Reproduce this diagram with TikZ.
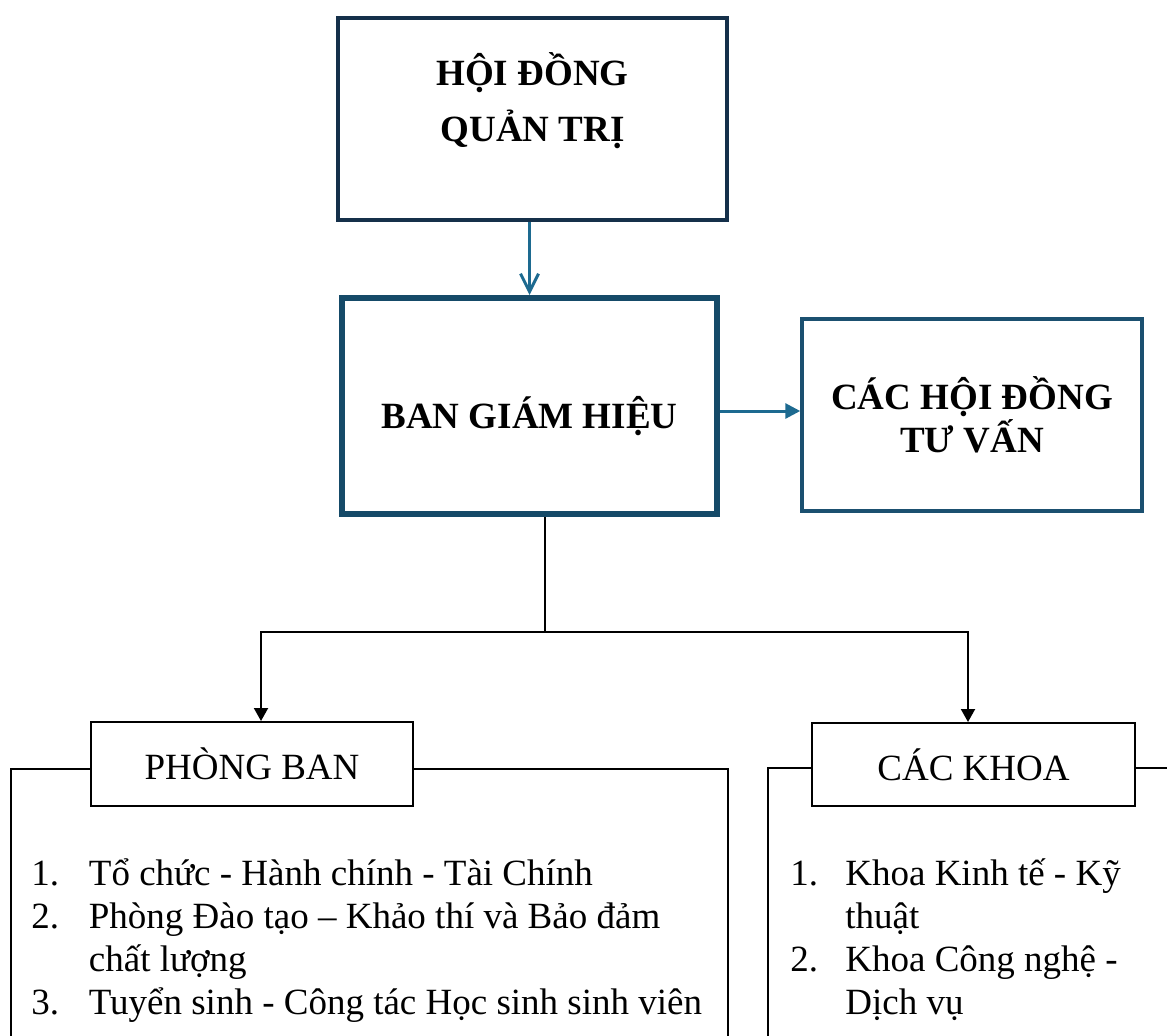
\documentclass[tikz,border=0pt]{standalone}
\usepackage{fontspec}
\setmainfont{Liberation Serif}
\usetikzlibrary{arrows.meta}
\newcommand{\px}{0.5pt}
\definecolor{navy}{HTML}{15304A}
\definecolor{deepblue}{HTML}{154A68}
\definecolor{steelblue}{HTML}{1B5070}
\definecolor{arrowblue}{HTML}{1D6A90}

\begin{document}
\begin{tikzpicture}[x=\px, y=-\px,
    txt/.style={font=\fontsize{18.5}{21.5}\selectfont},
    boldtxt/.style={font=\fontsize{18.5}{21.5}\selectfont\bfseries},
    boss/.style={draw, rectangle, inner sep=0pt, fill=white, boldtxt, align=center},
    unit/.style={draw, rectangle, line width=1pt, fill=white, inner sep=0pt, txt},
    panel/.style={draw, rectangle, line width=1pt, anchor=north west, inner sep=0pt},
    blueline/.style={draw=arrowblue, line width=1.5pt},
    blackline/.style={draw=black, line width=1pt, -{Triangle[length=6.5pt,width=7pt]}}]
    \useasboundingbox (0,0) rectangle (1167,1035);
    \clip (0,0) rectangle (1167,1035);

    % Top level
    \node[boss, draw=navy, line width=2pt, minimum width=389*\px, minimum height=202*\px] (hdqt) at (532.5,119) {};
    \node[boldtxt, align=center, inner sep=0pt] (hdqt-label) at (532.5,101) {HỘI ĐỒNG\\[6.5pt]QUẢN TRỊ};
    \node[boss, draw=deepblue, line width=3pt, minimum width=375*\px, minimum height=216*\px,
          text height=22pt, text depth=0pt] (bgh) at (529.5,406) {BAN GIÁM HIỆU};
    \node[boss, draw=steelblue, line width=1.75pt, minimum width=340*\px, minimum height=192*\px] (tuvan) at (972,415) {CÁC HỘI ĐỒNG\\TƯ VẤN};

    \draw[blueline, -{Straight Barb[length=9pt,width=9pt]}] (hdqt.south -| bgh.north) -- (bgh.north);
    \draw[blueline, -{Triangle[length=7.5pt,width=7.5pt]}] ([yshift=-2.5pt]bgh.east) -- ([yshift=-2.5pt]bgh.east -| tuvan.west);

    % Panels
    \node[panel, minimum width=717*\px, minimum height=400*\px] (pb-panel) at (10,768) {};
    \node[panel, minimum width=500*\px, minimum height=400*\px] (khoa-panel) at (767,767) {};

    % Second level
    \node[unit, minimum width=322*\px, minimum height=84*\px] (phongban) at (252,764) {PHÒNG BAN};
    \node[unit, minimum width=323*\px, minimum height=83*\px] (khoa) at (973.5,764.5) {CÁC KHOA};

    \coordinate (split) at (545,632);
    \draw[line width=1pt] (bgh.south -| split) -- (split);
    \draw[blackline] (split) -| ([xshift=4.5pt]phongban.north);
    \draw[blackline] (split) -| ([xshift=-2.75pt]khoa.north);

    % Lists
    \node[txt, anchor=base west, inner sep=0pt] (pb-list) at (31,885) {%
        \begin{tabular}[t]{@{}p{28.75pt}@{}l@{}}
        1. & Tổ chức - Hành chính - Tài Chính\\
        2. & Phòng Đào tạo – Khảo thí và Bảo đảm\\
           & chất lượng\\
        3. & Tuyển sinh - Công tác Học sinh sinh viên
        \end{tabular}};
    \node[txt, anchor=base west, inner sep=0pt] (khoa-list) at (790,885) {%
        \begin{tabular}[t]{@{}p{27.5pt}@{}l@{}}
        1. & Khoa Kinh tế - Kỹ\\
           & thuật\\
        2. & Khoa Công nghệ -\\
           & Dịch vụ
        \end{tabular}};

\end{tikzpicture}
\end{document}
